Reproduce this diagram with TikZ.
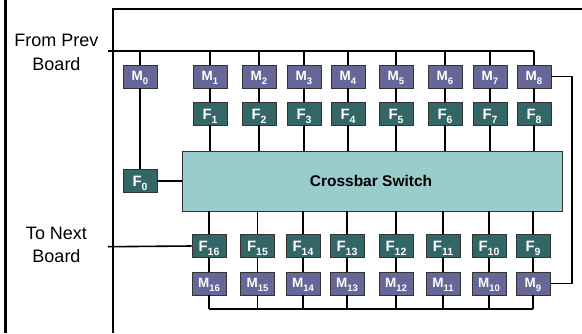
\documentclass[tikz,border=0pt]{standalone}
\usepackage{fontspec}
\setmainfont{Liberation Sans}
\definecolor{mcol}{HTML}{666699}
\definecolor{fcol}{HTML}{336666}
\definecolor{xcol}{HTML}{99CCCC}
\newcommand\msb[1]{\raisebox{-4pt}{\fontsize{9.5}{9.5}\selectfont #1}}
\newcommand\fsb[1]{\raisebox{-4pt}{\fontsize{10.5}{10.5}\selectfont #1}}
\begin{document}
\begin{tikzpicture}[x=1pt,y=-1pt,
  mboxst/.style={draw=black!80, line width=0.8pt, fill=mcol, minimum width=34pt, minimum height=23pt, inner sep=0pt, text=white, font=\fontsize{13.5}{13.5}\selectfont\bfseries, text height=9pt, text depth=0.2pt},
  fboxst/.style={draw=black!80, line width=0.8pt, fill=fcol, minimum width=34pt, minimum height=22.5pt, inner sep=0pt, text=white, font=\fontsize{15}{15}\selectfont\bfseries, text height=12pt, text depth=0.2pt},
  xbarst/.style={draw=black!80, line width=0.8pt, fill=xcol, minimum width=380pt, minimum height=60pt, inner sep=0pt},
  wire/.style={line width=1.6pt, black},
  boardline/.style={line width=1.2pt, black},
  lbl/.style={font=\fontsize{18}{18}\selectfont, anchor=base, inner sep=0pt},
]
\useasboundingbox (0,0) rectangle (582,333);
\fill[white] (0,0) rectangle (582,333);
% outer lines
\draw[line width=2.5pt] (5.5,0) -- (5.5,333);
\draw[boardline] (582,9) -- (113,9) -- (113,333);
% labels
\node[lbl] (fromA) at (56.5,46) {From Prev};
\node[lbl] (fromB) at (56.5,70) {Board};
\node[lbl] (toA) at (56.5,239.3) {To Next};
\node[lbl] (toB) at (56.5,262.7) {Board};
% crossbar
\node[xbarst] (X) at (372,181) {};
\node[font=\fontsize{15.5}{15.5}\selectfont\bfseries, anchor=base, inner sep=0pt] (xlbl) at (371,186.5) {Crossbar Switch};
% nodes
\node[mboxst] (M0) at (140,76.5) {M\msb{0}};
\node[fboxst] (F0) at (140,181) {F\fsb{0}};
\foreach \i/\x in {1/210,2/259,3/304,4/348,5/396,6/445,7/490,8/534}{
  \node[mboxst] (M\i) at (\x,76.5) {M\msb{\i}};
  \node[fboxst] (F\i) at (\x,113.7) {F\fsb{\i}};
}
\foreach \i/\x in {16/209,15/257.5,14/303,13/347,12/396,11/443,10/489,9/533}{
  \node[fboxst] (F\i) at (\x,246) {F\fsb{\i}};
  \node[mboxst] (M\i) at (\x,283.5) {M\msb{\i}};
}
% coordinates
\coordinate (fp) at (108,50.7);
\coordinate (tn) at (108,246.7);
\coordinate (rt) at (572,0);
\coordinate (bb) at (0,309);
% top bus
\draw[wire] (fp) -- (M8.north |- fp);
\draw[wire] (M0.north) -- (M0.north |- fp);
\draw[wire] (M0.south) -- (F0.north);
\draw[wire] (F0.east) -- (X.west |- F0.east);
\foreach \i in {1,...,8}{
  \draw[wire] (M\i.north) -- (M\i.north |- fp);
  \draw[wire] (M\i.south) -- (F\i.north);
  \draw[wire] (F\i.south) -- (F\i.south |- X.north);
}
% bottom
\foreach \i in {9,...,16}{
  \draw[wire] (X.south -| F\i.north) -- (F\i.north);
  \draw[wire] (F\i.south) -- (M\i.north);
  \draw[wire] (M\i.south) -- (M\i.south |- bb);
}
\draw[wire] (M16.south |- bb) -- (M9.south |- bb);
% right loop
\draw[wire] (M8.east) -- (M8.east -| rt) -- (M9.east -| rt) -- (M9.east);
% to next board
\draw[wire] (tn) -- (F16.west);
\end{tikzpicture}
\end{document}
